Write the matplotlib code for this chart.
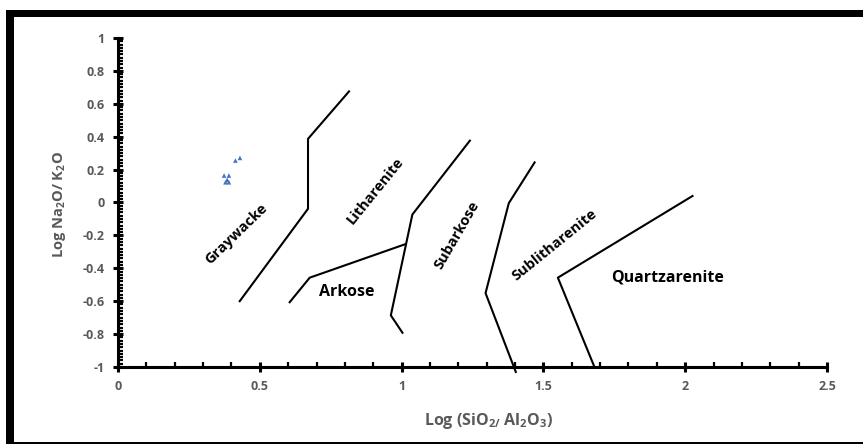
import matplotlib
matplotlib.use("Agg")
import matplotlib.pyplot as plt
from matplotlib.ticker import MultipleLocator
from matplotlib.patches import Rectangle

plt.rcParams['font.family'] = ['Open Sans', 'DejaVu Sans']
plt.rcParams['mathtext.default'] = 'regular'

# Sample points: log(SiO2/Al2O3) vs log(Na2O/K2O)
sample_x = [0.414, 0.430, 0.374, 0.391, 0.379, 0.391, 0.385]
sample_y = [0.255, 0.271, 0.164, 0.164, 0.123, 0.123, 0.138]

# Field boundaries of the classification diagram
graywacke_x = [0.427, 0.670, 0.670, 0.817]
graywacke_y = [-0.605, -0.038, 0.387, 0.680]

arkose_x = [0.603, 0.676, 1.017]
arkose_y = [-0.611, -0.457, -0.251]

subarkose_x = [1.243, 1.038, 0.962, 1.005]
subarkose_y = [0.381, -0.073, -0.686, -0.797]

sublith_x = [1.471, 1.378, 1.296, 1.404]
sublith_y = [0.249, -0.004, -0.551, -1.036]

quartz_x = [2.029, 1.551, 1.680]
quartz_y = [0.043, -0.457, -1.0]

boundaries = [(graywacke_x, graywacke_y), (arkose_x, arkose_y),
              (subarkose_x, subarkose_y), (sublith_x, sublith_y),
              (quartz_x, quartz_y)]

# Field names with their anchor positions and rotation
field_names = ['Graywacke', 'Litharenite', 'Arkose', 'Subarkose',
               'Sublitharenite', 'Quartzarenite']
field_x = [0.418, 0.908, 0.805, 1.195, 1.539, 1.938]
field_y = [-0.19, 0.073, -0.545, -0.20, -0.26, -0.457]
field_rot = [44, 51, 0, 60, 39, 0]

x_ticks = [0, 0.5, 1, 1.5, 2, 2.5]
x_tick_labels = ['0', '0.5', '1', '1.5', '2', '2.5']
y_ticks = [-1, -0.8, -0.6, -0.4, -0.2, 0, 0.2, 0.4, 0.6, 0.8, 1]
y_tick_labels = ['-1', '-0.8', '-0.6', '-0.4', '-0.2', '0', '0.2', '0.4',
                 '0.6', '0.8', '1']

W, H = 863, 445
fig = plt.figure(figsize=(W / 100, H / 100), dpi=100)
fig.patch.set_facecolor('white')

# Page frame around the chart
frame_kw = dict(transform=fig.transFigure, color='black', lw=0, zorder=10)
fig.patches.append(Rectangle((6 / W, 1 - 17 / H), (W - 6) / W, 7 / H, **frame_kw))
fig.patches.append(Rectangle((6 / W, 1 - 443 / H), 8 / W, 433 / H, **frame_kw))
fig.patches.append(Rectangle((6 / W, 1 - 444 / H), (W - 6) / W, 1.6 / H, **frame_kw))

ax = fig.add_axes([118 / W, 1 - 367 / H, (827 - 118) / W, (367 - 38) / H])
ax.set_xlim(0, 2.5)
ax.set_ylim(-1, 1)

for bx, by in boundaries:
    ax.plot(bx, by, color='black', lw=1.5, clip_on=False, solid_capstyle='butt')

ax.scatter(sample_x, sample_y, marker='^', s=11, color='#4472C4',
           edgecolors='none', zorder=5)

for name, fx, fy, rot in zip(field_names, field_x, field_y, field_rot):
    ax.text(fx, fy, name, rotation=rot, rotation_mode='anchor',
            ha='center', va='center', fontsize=11.5 if rot == 0 else 10.5,
            fontweight='bold', color='black')

for side in ['top', 'right']:
    ax.spines[side].set_visible(False)
for side in ['left', 'bottom']:
    ax.spines[side].set_linewidth(2.2)
    ax.spines[side].set_color('black')

ax.set_xticks(x_ticks)
ax.set_xticklabels(x_tick_labels)
ax.set_yticks(y_ticks)
ax.set_yticklabels(y_tick_labels)
ax.xaxis.set_minor_locator(MultipleLocator(0.1))
ax.yaxis.set_minor_locator(MultipleLocator(0.02))
ax.tick_params(which='major', direction='inout', length=7, width=2.2,
               color='black', labelsize=9, labelcolor='#595959', pad=6)
ax.tick_params(which='minor', direction='in', length=3.5, width=1.6,
               color='black')
for lbl in ax.get_xticklabels() + ax.get_yticklabels():
    lbl.set_fontweight('bold')

ax.set_xlabel('Log (SiO$_{2/}$ Al$_2$O$_3$)', fontsize=11.5, fontweight='bold',
              color='#595959')
ax.xaxis.set_label_coords(0.523, -0.135)
ax.set_ylabel('Log Na$_2$O/ K$_2$O', fontsize=10.5, fontweight='bold',
              color='#595959')
ax.yaxis.set_label_coords(-0.07, 0.495)

fig.savefig('out.png', dpi=100)
